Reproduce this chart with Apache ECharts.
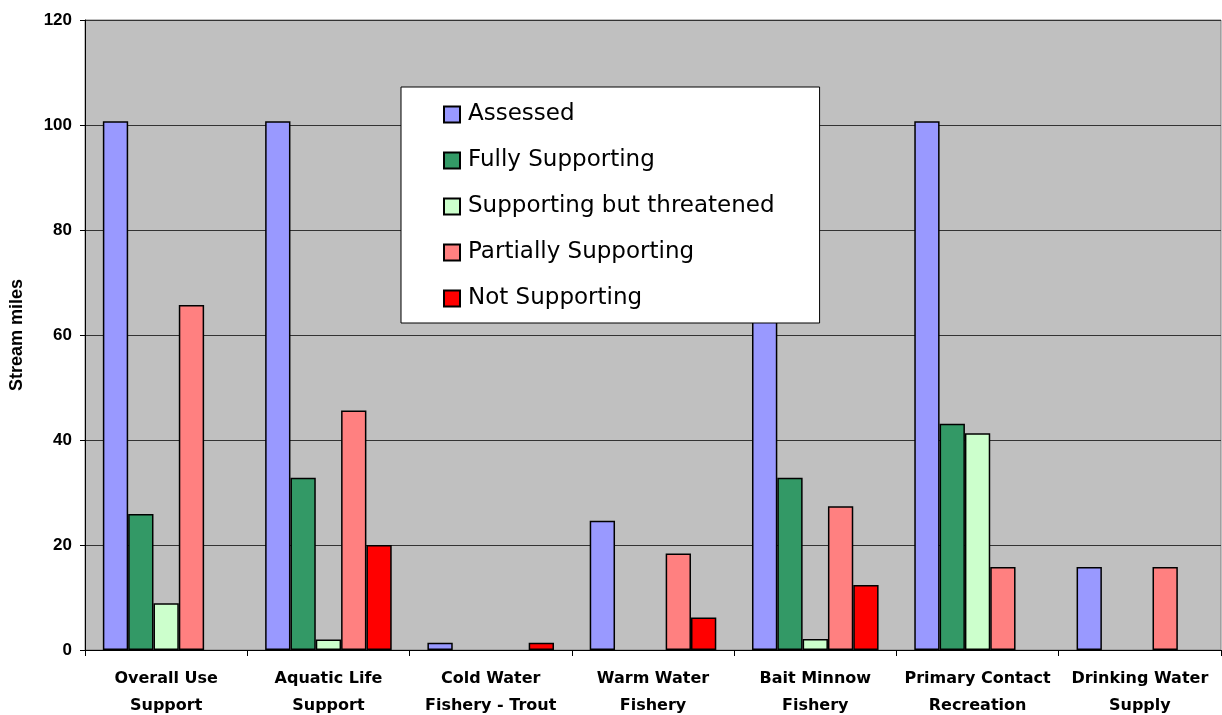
<!DOCTYPE html>
<html>
<head>
<meta charset="utf-8">
<script src="https://cdn.jsdelivr.net/npm/echarts@6/dist/echarts.min.js"></script>
<style>
  html, body { margin: 0; padding: 0; background: #ffffff; }
  #chart { width: 1222px; height: 715px; }
</style>
</head>
<body>
<div id="chart"></div>
<script>
// Designated uses (stream miles by support status)
const categories = [
  'Overall Use\nSupport',
  'Aquatic Life\nSupport',
  'Cold Water\nFishery - Trout',
  'Warm Water\nFishery',
  'Bait Minnow\nFishery',
  'Primary Contact\nRecreation',
  'Drinking Water\nSupply'
];
const assessed          = [100.7, 100.7, 1.4, 24.6, 74.7, 100.7, 15.8];
const fullySupporting   = [25.9, 32.8, 0, 0, 32.8, 43.1, 0];
const supportThreatened = [8.9, 2.0, 0, 0, 2.1, 41.3, 0];
const partiallySupport  = [65.7, 45.6, 0, 18.4, 27.4, 15.8, 15.8];
const notSupporting     = [0, 20.0, 1.4, 6.2, 12.4, 0, 0];
const yTicks = { min: 0, max: 120, interval: 20 };

const seriesDefs = [
  ['Assessed', assessed, '#9999FF'],
  ['Fully Supporting', fullySupporting, '#339966'],
  ['Supporting but threatened', supportThreatened, '#CCFFCC'],
  ['Partially Supporting', partiallySupport, '#FF8080'],
  ['Not Supporting', notSupporting, '#FF0000']
];

const chart = echarts.init(document.getElementById('chart'), null, { renderer: 'canvas' });

chart.setOption({
  animation: false,
  backgroundColor: '#ffffff',
  grid: {
    left: 85, right: 1, top: 20, bottom: 65,
    outerBoundsMode: 'none',
    containLabel: false,
    show: true,
    backgroundColor: '#C0C0C0',
    borderColor: '#808080',
    borderWidth: 1
  },
  legend: {
    orient: 'vertical',
    left: 401,
    top: 87,
    padding: [16, 45, 13, 42],
    itemGap: 23,
    itemWidth: 16,
    itemHeight: 16,
    icon: 'rect',
    backgroundColor: '#ffffff',
    borderColor: '#000000',
    borderWidth: 1,
    textStyle: { fontFamily: 'DejaVu Sans', fontSize: 23, color: '#000000', padding: [0, 0, 0, 3] },
    data: seriesDefs.map(d => d[0])
  },
  xAxis: {
    type: 'category',
    data: categories,
    boundaryGap: true,
    axisLine: { show: true, lineStyle: { color: '#000000', width: 1 } },
    axisTick: { show: true, length: 6, inside: false, alignWithLabel: false, lineStyle: { color: '#000000' } },
    axisLabel: {
      interval: 0,
      margin: 15,
      fontFamily: 'DejaVu Sans',
      fontWeight: 'bold',
      fontSize: 16,
      lineHeight: 27,
      color: '#000000'
    },
    splitLine: { show: false }
  },
  yAxis: {
    type: 'value',
    min: yTicks.min,
    max: yTicks.max,
    interval: yTicks.interval,
    name: 'Stream miles',
    nameLocation: 'middle',
    nameGap: 59,
    nameRotate: 90,
    nameTextStyle: { fontFamily: 'Liberation Sans', fontWeight: 'bold', fontSize: 18, color: '#000000' },
    axisLine: { show: true, lineStyle: { color: '#000000', width: 1 } },
    axisTick: { show: true, length: 5, inside: false, lineStyle: { color: '#000000' } },
    axisLabel: {
      margin: 13,
      fontFamily: 'Liberation Sans',
      fontWeight: 'bold',
      fontSize: 17,
      color: '#000000'
    },
    splitLine: { show: true, lineStyle: { color: '#333333', width: 1 } }
  },
  series: seriesDefs.map(([name, values, color]) => ({
    name: name,
    type: 'bar',
    // zero-length bars are left undrawn
    data: values.map(v => (v === 0 ? '-' : v)),
    barGap: '0%',
    barCategoryGap: '22%',
    itemStyle: { color: color, borderColor: '#000000', borderWidth: 1.5 },
    emphasis: { disabled: true }
  }))
});
</script>
</body>
</html>
